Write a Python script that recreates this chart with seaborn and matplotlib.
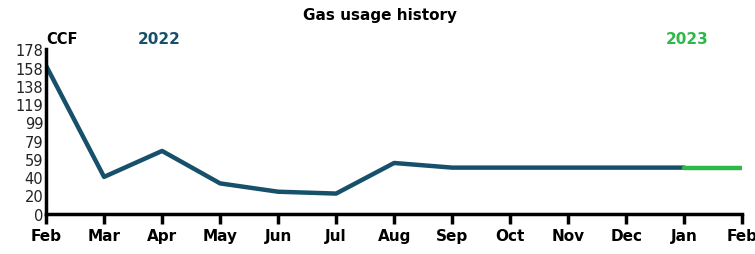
import pandas as pd
import matplotlib
matplotlib.use("Agg")
import matplotlib.pyplot as plt
import seaborn as sns

months = ['Feb', 'Mar', 'Apr', 'May', 'Jun', 'Jul', 'Aug', 'Sep', 'Oct', 'Nov', 'Dec', 'Jan', 'Feb']
usage = [160, 40, 68, 33, 24, 22, 55, 50, 50, 50, 50, 50, 50]
y_ticks = [0, 20, 40, 59, 79, 99, 119, 138, 158, 178]
teal = '#17506a'
green = '#2db84a'

# 2022 runs Feb..Jan, 2023 segment is Jan..Feb
df_2022 = pd.DataFrame({'idx': range(0, 12), 'ccf': usage[0:12], 'year': '2022'})
df_2023 = pd.DataFrame({'idx': range(11, 13), 'ccf': usage[11:13], 'year': '2023'})
df = pd.concat([df_2022, df_2023], ignore_index=True)

sns.set_style('white')
plt.rcParams['font.family'] = ['DejaVu Sans']

fig = plt.figure(figsize=(7.55, 2.55), dpi=100)
ax = fig.add_axes([0.061, 0.157, 0.922, 0.647])

sns.lineplot(data=df, x='idx', y='ccf', hue='year', palette={'2022': teal, '2023': green},
             linewidth=3.2, legend=False, ax=ax)

ax.set_xlim(0, 12)
ax.set_ylim(0, 178)
ax.set_xticks(range(len(months)))
ax.set_xticklabels(months, fontsize=11, fontweight='bold', color='black')
ax.set_yticks(y_ticks)
ax.set_yticklabels([str(v) for v in y_ticks], fontsize=10.5, color='#222222')
ax.set_xlabel('')
ax.set_ylabel('')

for s in ['top', 'right']:
    ax.spines[s].set_visible(False)
for s in ['left', 'bottom']:
    ax.spines[s].set_linewidth(2.5)
    ax.spines[s].set_color('black')
ax.tick_params(axis='x', bottom=True, direction='out', length=7, width=2.5, color='black', pad=3)
ax.tick_params(axis='y', left=False, length=0, pad=2)

fig.text(0.503, 0.94, 'Gas usage history', ha='center', va='center', fontsize=11, fontweight='bold', color='black')
fig.text(0.061, 0.845, 'CCF', ha='left', va='center', fontsize=10.5, fontweight='bold', color='black')
fig.text(0.183, 0.845, '2022', ha='left', va='center', fontsize=11, fontweight='bold', color=teal)
fig.text(0.882, 0.845, '2023', ha='left', va='center', fontsize=11, fontweight='bold', color=green)

fig.savefig('out.png', dpi=100)
